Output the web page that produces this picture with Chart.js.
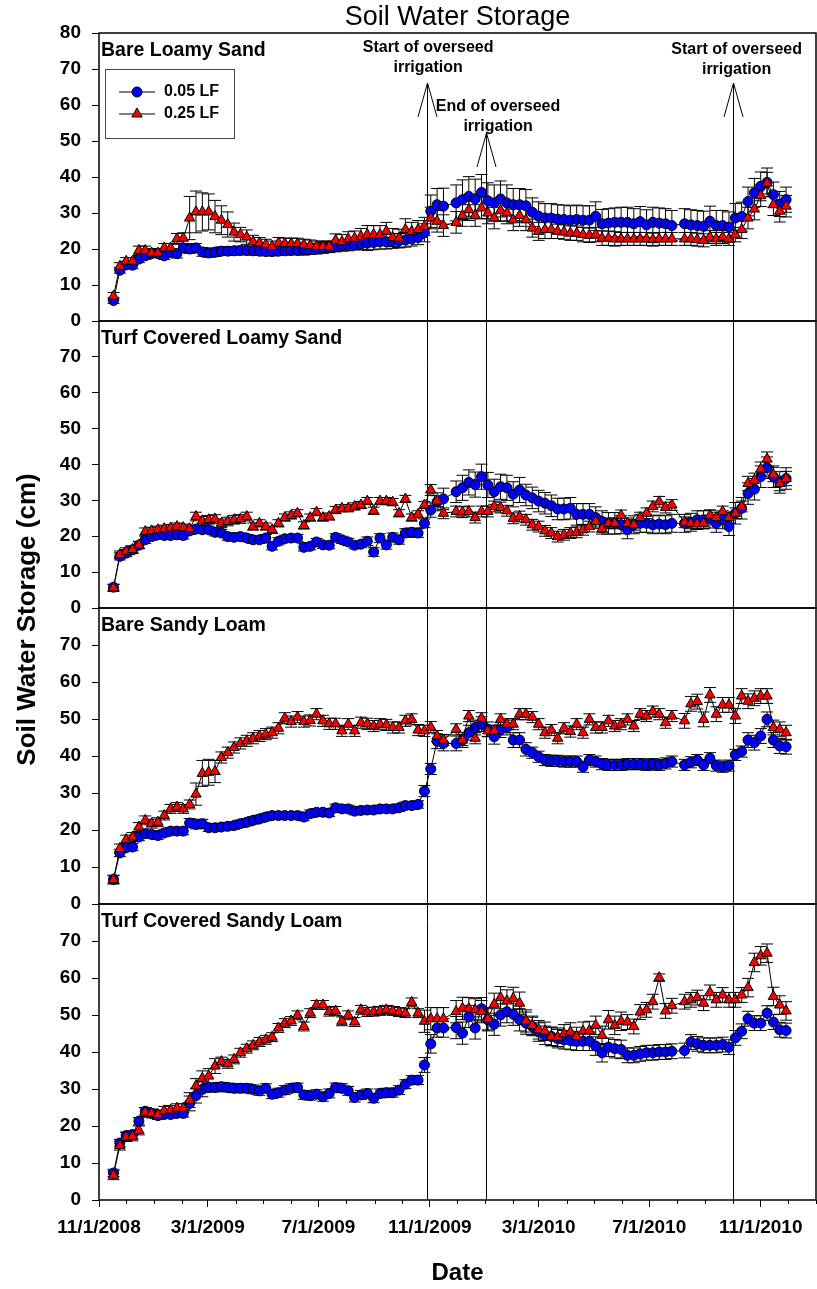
<!DOCTYPE html>
<html>
<head>
<meta charset="utf-8">
<title>Soil Water Storage</title>
<script src="https://cdn.jsdelivr.net/npm/chart.js@4.4.1/dist/chart.umd.min.js"></script>
<style>
  html, body { margin: 0; padding: 0; background: #fff; }
  #wrap { width: 817px; height: 1289px; }
</style>
</head>
<body>
<div id="wrap"><canvas id="soilChart" width="817" height="1289"></canvas></div>
<script>
const FONT = 'Arial, "Liberation Sans", Helvetica, sans-serif';

// weekly sampling dates
const dates = [
  '2008-11-17','2008-11-24','2008-12-01','2008-12-08','2008-12-15','2008-12-22','2008-12-29','2009-01-05','2009-01-12','2009-01-19',
  '2009-01-26','2009-02-02','2009-02-09','2009-02-16','2009-02-23','2009-03-02','2009-03-09','2009-03-16','2009-03-23','2009-03-30',
  '2009-04-06','2009-04-13','2009-04-20','2009-04-27','2009-05-04','2009-05-11','2009-05-18','2009-05-25','2009-06-01','2009-06-08',
  '2009-06-15','2009-06-22','2009-06-29','2009-07-06','2009-07-13','2009-07-20','2009-07-27','2009-08-03','2009-08-10','2009-08-17',
  '2009-08-24','2009-08-31','2009-09-07','2009-09-14','2009-09-21','2009-09-28','2009-10-05','2009-10-12','2009-10-19','2009-10-26',
  '2009-11-02','2009-11-09','2009-11-16','2009-11-30','2009-12-07','2009-12-14','2009-12-21','2009-12-28','2010-01-04',
  '2010-01-11','2010-01-18','2010-01-25','2010-02-01','2010-02-08','2010-02-15','2010-02-22','2010-03-01','2010-03-08','2010-03-15',
  '2010-03-22','2010-03-29','2010-04-05','2010-04-12','2010-04-19','2010-04-26','2010-05-03','2010-05-10','2010-05-17','2010-05-24',
  '2010-05-31','2010-06-07','2010-06-14','2010-06-21','2010-06-28','2010-07-05','2010-07-12','2010-07-19','2010-07-26',
  '2010-08-09','2010-08-16','2010-08-23','2010-08-30','2010-09-06','2010-09-13','2010-09-20','2010-09-27','2010-10-04','2010-10-11',
  '2010-10-18','2010-10-25','2010-11-01','2010-11-08','2010-11-15','2010-11-22','2010-11-29'
];

const xTickDates = [
  '2008-11-01','2008-12-01','2009-01-01','2009-02-01','2009-03-01','2009-04-01','2009-05-01','2009-06-01','2009-07-01',
  '2009-08-01','2009-09-01','2009-10-01','2009-11-01','2009-12-01','2010-01-01','2010-02-01','2010-03-01','2010-04-01',
  '2010-05-01','2010-06-01','2010-07-01','2010-08-01','2010-09-01','2010-10-01','2010-11-01','2010-12-01','2011-01-01'
];
const xTickLabels = [
  '11/1/2008','','','','3/1/2009','','','','7/1/2009',
  '','','','11/1/2009','','','','3/1/2010','',
  '','','7/1/2010','','','','11/1/2010','',''
];
const yTicks = [0, 10, 20, 30, 40, 50, 60, 70, 80];

const panelTitles = ['Bare Loamy Sand', 'Turf Covered Loamy Sand', 'Bare Sandy Loam', 'Turf Covered Sandy Loam'];
const seriesLabels = ['0.05 LF', '0.25 LF'];

// Bare Loamy Sand
const bareLoamySand05 = [
  5.7,14.1,15.6,15.5,17.2,18.1,18.7,18.7,18.1,19,
  18.7,20.3,20,20.3,19.2,18.9,19.1,19.4,19.4,19.5,
  19.6,19.6,19.5,19.4,19.3,19.3,19.4,19.5,19.6,19.6,
  19.8,20,20.1,20.3,20.5,20.7,20.9,21,21.2,21.4,
  21.6,21.8,22,22,22.2,22.3,22.5,22.8,23.2,24.5,
  30.5,32.3,31.9,32.8,33.7,34.6,33.9,35.7,33.4,
  32.8,33.9,32.8,32.3,32.3,32,30.2,29.1,28.6,28.6,
  28.3,28.2,28,28.2,28,28,29.1,27,27.2,27.4,
  27.4,27.4,27,27.6,26.7,27.4,27.2,27,26.5,
  27,26.7,26.5,26.3,27.7,26.5,26.5,26.1,28.6,29,
  33.2,35.6,37.4,38.5,35.1,32.5,33.7
];
const bareLoamySand05Err = [
  0.8,0.8,1,1,1,1,1,1,1,1,
  1.2,1.2,1.2,1.2,1.2,1.2,1.2,1.2,1.2,1.2,
  1.2,1.2,1.2,1.2,1.2,1.2,1.2,1.2,1.2,1.2,
  1.5,1.5,1.5,1.5,1.5,1.5,1.5,1.5,1.5,1.5,
  2,2,2,2,2,2,2,2,2,2.5,
  4.5,4.5,5,5,5.5,5.5,5.5,5,5,
  5,5,5,4.5,4.5,4.5,4,4,4,4,
  4,4,4,4,4,4,4,4,4,4,
  4.2,4.2,4.2,4.2,4.2,4.2,4.2,4.2,4.2,
  4.2,4.2,4.2,4.2,4.2,4.2,4.2,4.2,4,4,
  4,4,4,4,3.5,3.5,3.5
];
const bareLoamySand25 = [
  6.9,15.2,16.6,16.6,19.6,19.6,18.9,18.9,20.3,20.3,
  22.8,23,28.6,30.3,30.3,30.3,29,28,26.8,24.7,
  24,23.3,22,21.7,21.2,20.7,21.7,21.5,21.5,21.5,
  21.2,21,20.7,20.7,20.7,22.4,22,22.8,23,23.5,
  24,24,24,24.9,23.2,23,25.4,24.9,25.4,26.3,
  28.6,27.7,26.5,27.4,29.3,30.9,29.3,31.4,30,
  28.6,30.7,30,28.1,29.3,28.1,25.8,24.9,25.4,25.4,
  24.9,24.7,24.4,24.4,24,23.8,24,23,23,22.8,
  22.8,22.8,22.8,22.8,22.8,22.6,22.8,22.8,22.8,
  22.8,22.8,22.6,22.4,23.3,22.8,23.3,22.8,24,25.4,
  28.6,31.1,34.8,38.3,32.3,30.5,31.9
];
const bareLoamySand25Err = [
  1,1,1,1,1.2,1.2,1.2,1.2,1.2,1.2,
  1.5,1.5,6,5.8,5.3,5,4.5,4,3.5,2.5,
  2,2,1.8,1.5,1.5,1.5,1.5,1.5,1.5,1.5,
  1.5,1.5,1.5,1.5,1.5,1.8,2,2,2,2.2,
  2.5,2.5,2.5,2.5,2.5,2.5,3,2.5,2.5,2.5,
  3,3,3,3,3,3,3,3,3,
  3,3,3,3,3,3,2.5,2.5,2.5,2.5,
  2,2,2,2,2,2,2,2,2,2,
  1.8,1.8,1.8,1.8,1.8,1.8,1.8,1.8,1.8,
  1.8,1.8,1.8,1.8,1.8,1.8,1.8,1.8,2,2.5,
  3,3,3,3,3,3,3
];

// Turf Covered Loamy Sand
const turfLoamySand05 = [
  5.8,14.4,15.3,16.2,17.5,19,19.9,20.4,20.2,20.2,
  20.4,20.2,21.5,22,21.8,21.8,21.1,20.9,19.9,19.7,
  19.9,19.5,19,19,19.5,17.2,18.6,19.3,19.5,19.5,
  16.9,17.2,18.4,17.6,17.5,19.7,19,18.4,17.5,17.8,
  18.6,15.6,19.5,17.6,19.7,19,20.9,21.1,20.9,23.6,
  27.3,29.6,30.4,32.4,33.5,35,34.4,36.6,34.3,
  32.4,33.8,33.5,31.7,32.9,31.5,30.7,29.8,29.2,28.5,
  27.6,27.6,27.8,26.1,26.1,26.1,25.2,24.1,23.6,23.6,
  23.2,21.8,23.2,23.6,23.6,23.2,23.4,23.2,23.6,
  23.6,23.9,24.6,24.6,24.8,23.6,24.6,22.7,26.4,27.8,
  31.9,33.1,36.6,39.1,36.6,35,36.1
];
const turfLoamySand05Err = [
  0.8,1,1,1,1,1,1,1,1,1,
  1,1,1,1,1,1,1,1,1,1,
  1,1,1,1,1,1,1,1,1,1,
  1,1,1,1,1,1,1,1,1,1,
  1.2,1.2,1.2,1.2,1.2,1.2,1.2,1.2,1.2,1.2,
  2,2.5,3,3,3.5,3.5,3.5,3.5,3.5,
  3.5,3.5,3.5,3.5,3.5,3,3,3,3,3,
  3,3,3,3,3,3,3,3,3,3,
  2.5,2.5,2.5,2.5,2.5,2.5,2.5,2.5,2.5,
  2.5,2.5,2.5,2.5,2.5,2.5,2.5,2.5,3,3,
  3,3,3,3,3,3,3
];
const turfLoamySand25 = [
  5.6,14.9,15.8,16.3,17.6,21.3,21.5,21.8,22.1,22.3,
  22.7,22.4,22.1,25.5,24.3,24.6,24.8,23.6,24.1,24.6,
  24.8,25.5,22.7,23.6,22.7,21.8,23.6,25.2,25.8,26.4,
  23,25.2,26.7,25.2,25.5,27.3,27.8,27.8,28.3,28.7,
  29.8,27.1,29.8,29.8,29.5,26.4,30.4,25.2,26.1,28.7,
  32.9,29.8,26.4,26.9,26.7,26.9,25.2,26.9,26.9,
  28.3,28,27.1,25,25.5,24.6,23.2,22.7,21.5,20.9,
  19.9,20.4,20.9,21.1,21.8,22.7,24.1,22.1,23.6,23.6,
  25.8,23.6,23.2,25.2,26.4,28.3,29.6,28,28.7,
  23.9,23.6,23.4,23.6,25.8,25.2,26.9,25.2,26.4,28.3,
  34.7,35.6,38.7,41.5,37.2,34.7,36.1
];
const turfLoamySand25Err = [
  1,1,1,1,1,1,1,1,1,1,
  1,1,1,1.2,1.2,1.2,1.2,1.2,1.2,1.2,
  1.2,1.2,1,1,1,1,1,1,1,1,
  1,1,1,1,1,1,1,1,1,1,
  1,1,1,1,1,1,1,1,1,1,
  1.5,1.5,1.5,1.5,1.5,1.5,1.5,1.5,1.5,
  1.5,1.5,1.5,1.5,1.5,1.5,1.5,1.5,1.5,1.5,
  1.5,1.5,1.5,1.5,1.5,1.5,1.5,1.5,1.5,1.5,
  1.5,1.5,1.5,1.5,1.5,1.5,1.5,1.5,1.5,
  1.5,1.5,1.5,1.5,1.5,1.5,1.5,1.5,1.5,1.5,
  2,2,2,2,2,2,2
];

// Bare Sandy Loam
const bareSandyLoam05 = [
  6.6,13.8,15.2,15.4,18.1,19,18.8,18.5,19.2,19.7,
  19.7,19.7,21.9,21.5,21.7,20.6,20.6,20.8,21,21.2,
  21.7,22.1,22.6,23,23.5,23.9,23.9,23.9,23.9,23.9,
  23.5,24.4,24.8,24.8,24.6,26,25.7,25.7,25.1,25.3,
  25.4,25.4,25.7,25.7,25.7,26,26.6,26.6,26.9,30.5,
  36.5,44,43.4,43.4,44.3,46.3,47.7,48.6,47.2,
  45.2,47,47.7,44.3,44.3,41.8,40.9,39.8,38.9,38.7,
  38.7,38.5,38.5,38.5,37.1,38.9,38.5,37.8,37.6,37.6,
  37.6,37.8,37.8,37.8,37.6,37.8,37.6,38,38.5,
  37.6,38.3,38.9,37.6,39.4,37.4,37.1,37.4,40.3,41.2,
  44.3,43.6,45.4,49.9,44.3,42.7,42.5
];
const bareSandyLoam05Err = [
  1,1,1,1,1,1,1,1,1,1,
  1,1,1.2,1.2,1.2,1,1,1,1,1,
  1,1,1,1,1,1,1,1,1,1,
  1,1,1,1,1,1,1,1,1,1,
  1,1,1,1,1,1,1,1,1,1.5,
  1.5,2,2,2,2,2,2,2,2,
  2,2,2,2,2,1.8,1.5,1.5,1.5,1.5,
  1.5,1.5,1.5,1.5,1.5,1.5,1.5,1.5,1.5,1.5,
  1.5,1.5,1.5,1.5,1.5,1.5,1.5,1.5,1.5,
  1.5,1.5,1.5,1.5,1.5,1.5,1.5,1.5,1.5,1.5,
  2,2,2,2,2,2,2
];
const bareSandyLoam25 = [
  6.6,15,17.4,18.1,20.8,22.6,21.7,22.1,23.9,25.7,
  26.2,25.7,26.9,29.7,35.3,35.6,35.8,39.6,40.9,42.3,
  43.4,44.1,44.8,45.4,45.9,46.3,47.5,50.2,49.3,50.5,
  49.3,49.6,51.3,49.5,48.7,48.7,46.8,48.6,46.8,49,
  48.7,48.1,48.6,48.4,47.7,47.7,49.5,49.9,47,46.8,
  47.8,45.4,44.3,47.2,44.3,50.8,44.8,50.2,46.8,
  46.8,49.9,48.6,48.6,51.3,51.3,50.5,48.6,46.3,47,
  44.8,47.5,46.6,48.6,46.3,49.9,47.7,47.7,49.5,48.1,
  48.6,49.9,48.1,51.3,50.8,52,51.3,49,50.8,
  49.5,54.1,54.7,49.9,56.5,51.3,53.8,53.8,50.8,56.2,
  54.8,55.6,56.2,56.2,47.7,47.2,46.3
];
const bareSandyLoam25Err = [
  1.2,1.2,1.2,1.2,1.2,1.2,1.2,1.2,1.2,1.2,
  1.2,1.2,1.2,3,3.5,3.5,3,1.5,1.5,1.5,
  1.5,1.5,1.5,1.5,1.5,1.5,1.5,1.5,1.5,1.5,
  1.5,1.5,1.5,1.5,1.5,1.5,1.5,1.5,1.5,1.5,
  1.5,1.5,1.5,1.5,1.5,1.5,1.5,1.5,1.5,1.5,
  1.5,1.5,1.5,1.5,1.5,1.5,1.5,1.5,1.5,
  1.5,1.5,1.5,1.5,1.5,1.5,1.5,1.5,1.5,1.5,
  1.5,1.5,1.5,1.5,1.5,1.5,1.5,1.5,1.5,1.5,
  1.5,1.5,1.5,1.5,1.5,1.5,1.5,1.5,1.5,
  2,2,2,2,2,2,2,2,2,2,
  2,2,2,2,2,2,2
];

// Turf Covered Sandy Loam
const turfSandyLoam05 = [
  7.3,15.4,17.4,17.7,21.3,24,23.4,22.8,23.1,23.1,
  23.4,23.4,26.1,28.2,29.9,30.4,30.4,30.6,30.4,30.2,
  30.2,30.2,29.9,29.5,30.2,28.6,29,29.7,30.2,30.4,
  28.4,28.2,28.6,27.9,28.8,30.4,30.2,29.5,27.7,28.4,
  28.8,27.5,28.8,29,29,29.7,31.3,32.4,32.4,36.5,
  42.2,46.5,46.5,46.6,45.1,49.6,46.5,51.7,48.7,
  47.5,50,50.9,50.2,48.7,47.8,46.9,45.4,44.5,44.2,
  43.6,43.3,43.1,42.9,42.9,42.9,41.6,39.8,41.3,40.9,
  40.7,39.1,39.1,39.5,39.8,39.8,40,40,40.2,
  40.4,42.7,42.2,41.8,41.8,41.8,42,41.3,43.8,45.6,
  49,47.8,47.8,50.5,48.1,46,45.8
];
const turfSandyLoam05Err = [
  1,1,1,1,1,1,1,1,1,1,
  1,1,2,2,2,1.2,1.2,1.2,1.2,1.2,
  1.2,1.2,1.2,1.2,1.2,1.2,1.2,1.2,1.2,1.2,
  1.2,1.2,1.2,1.2,1.2,1.2,1.2,1.2,1.2,1.2,
  1.2,1.2,1.2,1.2,1.2,1.2,1.2,1.2,1.2,2,
  2.5,2.5,2.5,3,3,3,3,3,3,
  3,3,3,3,3,3,2.5,2.5,2.5,2.5,
  2.5,2.5,2.5,2.5,2.5,2.5,2.5,2.5,2.5,2.5,
  2.5,2,2,2,2,2,2,2,2,
  2,2,2,2,2,2,2,2,2,2,
  2,2,2,2,2,2,2
];
const turfSandyLoam25 = [
  6.7,14.7,17,17.2,18.8,23.7,23.4,23.1,24.1,24.3,
  24.8,24.8,27,30.8,32.9,33.5,36.2,37.4,36.8,38,
  39.8,40.9,41.8,42.7,43.3,44,46.5,47.8,48.4,49.9,
  46.9,50.5,52.7,52.7,50.9,51.1,48.3,49.9,48.1,51.4,
  50.8,50.9,51.1,51.4,51.1,50.8,50.5,53.4,50.5,48.3,
  49,49,49,50.9,51.8,51.7,51.4,50.9,49,
  52.9,54.7,53.8,54.5,53.2,48.4,47.2,46,45.6,44.2,
  44,44.9,45.4,44.2,45.6,45.8,47.2,44.5,48.7,47.2,
  48.3,48.1,46.9,50.8,51.4,53.6,60.1,51.1,52.5,
  53.6,54.1,54.7,53.2,56.1,54.1,55.4,54.1,54.1,55.4,
  57.4,64.2,66,66.7,55,52.7,51.1
];
const turfSandyLoam25Err = [
  1.2,1.2,1.2,1.2,1.2,1.2,1.2,1.2,1.2,1.2,
  1.2,1.2,2,2,2,2,2,1.2,1.2,1.2,
  1.2,1.2,1.2,1.2,1.2,1.2,1.2,1.2,1.2,1.2,
  1.2,1.2,1.2,1.2,1.2,1.2,1.2,1.2,1.2,1.2,
  1.2,1.2,1.2,1.2,1.2,1.2,1.2,1.2,1.2,3,
  3,3,3,3,3,3,3,3,3,
  3,3,3,3,3,3,2.5,2.5,2.5,2.5,
  2.5,2.5,2.5,2.5,2.5,2.5,2.5,2.5,2.5,2.5,
  2.5,2,2,2,2,2,1,2,2,
  2,2,2,2,2,2,2,2,2,2,
  2.5,2.5,2.5,2.5,2.5,2.5,2.5
];

// overseed irrigation events
const eventDates = ['2009-10-29', '2010-01-02', '2010-10-01'];
const eventLabels = [
  ['Start of overseed', 'irrigation'],
  ['End of overseed', 'irrigation'],
  ['Start of overseed', 'irrigation']
];

const origin = Date.UTC(2008, 10, 1);
const toDay = (s) => {
  const [y, m, d] = s.split('-').map(Number);
  return (Date.UTC(y, m - 1, d) - origin) / 86400000;
};

const panels = [
  { low: bareLoamySand05, lowErr: bareLoamySand05Err, high: bareLoamySand25, highErr: bareLoamySand25Err },
  { low: turfLoamySand05, lowErr: turfLoamySand05Err, high: turfLoamySand25, highErr: turfLoamySand25Err },
  { low: bareSandyLoam05, lowErr: bareSandyLoam05Err, high: bareSandyLoam25, highErr: bareSandyLoam25Err },
  { low: turfSandyLoam05, lowErr: turfSandyLoam05Err, high: turfSandyLoam25, highErr: turfSandyLoam25Err }
];
const panelWeights = [288, 287, 296, 296];

const BLUE = '#0000ff';
const RED = '#ff0000';

const datasets = [];
const errorBars = [];
panels.forEach((p, i) => {
  const axis = 'y' + (i + 1);
  datasets.push({
    label: seriesLabels[1], yAxisID: axis, order: 1,
    data: dates.map((d, j) => ({ x: toDay(d), y: p.high[j] })),
    borderColor: '#000', borderWidth: 1, backgroundColor: RED,
    pointStyle: 'triangle', pointRadius: 6, pointBackgroundColor: RED,
    pointBorderColor: '#000', pointBorderWidth: 1
  });
  errorBars.push(p.highErr);
  datasets.push({
    label: seriesLabels[0], yAxisID: axis, order: 2,
    data: dates.map((d, j) => ({ x: toDay(d), y: p.low[j] })),
    borderColor: '#000', borderWidth: 1, backgroundColor: BLUE,
    pointStyle: 'circle', pointRadius: 5, pointBackgroundColor: BLUE,
    pointBorderColor: '#000', pointBorderWidth: 1
  });
  errorBars.push(p.lowErr);
});

const tickFont = { family: FONT, size: 19, weight: 'bold' };

const scales = {
  x: {
    type: 'linear',
    min: toDay(xTickDates[0]),
    max: toDay(xTickDates[xTickDates.length - 1]),
    afterBuildTicks: (axis) => { axis.ticks = xTickDates.map(d => ({ value: toDay(d) })); },
    afterFit: (axis) => {
      axis.height = 89;
      axis.paddingLeft = 0;
      axis.paddingRight = 0;
    },
    ticks: {
      autoSkip: false, maxRotation: 0, padding: 9, color: '#000', font: tickFont,
      callback: (v, i) => xTickLabels[i]
    },
    grid: {
      drawOnChartArea: false, tickLength: 7, color: '#000',
      tickColor: (c) => (xTickLabels[c.index] ? '#000' : 'rgba(0,0,0,0)')
    },
    border: { display: false },
    title: {
      display: true, text: 'Date', color: '#000',
      font: { family: FONT, size: 24, weight: 'bold' }, padding: { top: 0, bottom: 1 }
    }
  }
};
panels.forEach((p, i) => {
  scales['y' + (i + 1)] = {
    type: 'linear', position: 'left', stack: 'panels',
    stackWeight: panelWeights[i], weight: panels.length - i,
    min: yTicks[0], max: yTicks[yTicks.length - 1],
    afterBuildTicks: (axis) => { axis.ticks = yTicks.map(v => ({ value: v })); },
    afterFit: (axis) => { axis.width = 99; },
    ticks: {
      autoSkip: false, padding: 11, color: '#000', font: tickFont,
      callback: (v) => (i > 0 && v === yTicks[yTicks.length - 1] ? '' : v)
    },
    grid: { drawOnChartArea: false, tickLength: 7, color: '#000', tickColor: '#000' },
    border: { display: false }
  };
});

function drawMarker(ctx, style, x, y, r, fill) {
  ctx.beginPath();
  if (style === 'triangle') {
    ctx.moveTo(x, y - r);
    ctx.lineTo(x + r * 0.866, y + r / 2);
    ctx.lineTo(x - r * 0.866, y + r / 2);
    ctx.closePath();
  } else {
    ctx.arc(x, y, r, 0, Math.PI * 2);
  }
  ctx.fillStyle = fill;
  ctx.fill();
  ctx.strokeStyle = '#000';
  ctx.lineWidth = 1;
  ctx.stroke();
}

// arrow tip offset from top of plot, label offsets
const eventLayout = [
  { tip: 50, dx: 1, dy: -35 },
  { tip: 100, dx: 12, dy: -26.5 },
  { tip: 50, dx: 4, dy: -33 }
];

const overlay = {
  id: 'overlay',
  beforeDatasetsDraw(chart) {
    const { ctx, chartArea: a, scales: s } = chart;
    ctx.save();
    ctx.strokeStyle = '#000';
    ctx.lineWidth = 1;
    eventDates.forEach((d, i) => {
      const x = Math.round(s.x.getPixelForValue(toDay(d))) + 0.5;
      const tip = a.top + eventLayout[i].tip;
      ctx.beginPath();
      ctx.moveTo(x, tip);
      ctx.lineTo(x, a.bottom);
      ctx.moveTo(x - 9.5, tip + 34);
      ctx.lineTo(x, tip);
      ctx.lineTo(x + 9.5, tip + 34);
      ctx.stroke();
    });

    // error bars
    chart.data.datasets.forEach((ds, di) => {
      const meta = chart.getDatasetMeta(di);
      const ys = s[ds.yAxisID];
      const err = errorBars[di];
      ctx.beginPath();
      meta.data.forEach((pt, j) => {
        const v = ds.data[j].y;
        const top = ys.getPixelForValue(v + err[j]);
        const bot = ys.getPixelForValue(v - err[j]);
        ctx.moveTo(pt.x, top); ctx.lineTo(pt.x, bot);
        ctx.moveTo(pt.x - 6, top); ctx.lineTo(pt.x + 6, top);
        ctx.moveTo(pt.x - 6, bot); ctx.lineTo(pt.x + 6, bot);
      });
      ctx.stroke();
    });
    ctx.restore();
  },
  afterDatasetsDraw(chart) {
    const { ctx, chartArea: a, scales: s } = chart;
    ctx.save();

    // panel frames and minor x ticks
    ctx.strokeStyle = '#000';
    ctx.lineWidth = 1.5;
    panels.forEach((p, i) => {
      const ys = s['y' + (i + 1)];
      ctx.strokeRect(a.left, ys.top, a.right - a.left, ys.bottom - ys.top);
    });
    ctx.lineWidth = 1;
    ctx.beginPath();
    xTickDates.forEach((d, i) => {
      if (xTickLabels[i]) return;
      const x = Math.round(s.x.getPixelForValue(toDay(d))) + 0.5;
      ctx.moveTo(x, a.bottom);
      ctx.lineTo(x, a.bottom + 4);
    });
    ctx.stroke();

    // panel names
    ctx.fillStyle = '#000';
    ctx.textAlign = 'left';
    ctx.textBaseline = 'alphabetic';
    ctx.font = `bold 19.5px ${FONT}`;
    panelTitles.forEach((t, i) => {
      ctx.fillText(t, a.left + 2, s['y' + (i + 1)].top + 23);
    });

    // legend
    const lx = a.left + 6, ly = a.top + 36;
    ctx.strokeStyle = '#444';
    ctx.lineWidth = 1;
    ctx.strokeRect(lx + 0.5, ly + 0.5, 129, 69);
    ctx.font = `bold 16px ${FONT}`;
    ctx.textBaseline = 'middle';
    [[BLUE, 'circle', 5], [RED, 'triangle', 6]].forEach(([c, style, r], i) => {
      const y = ly + 23 + i * 22;
      ctx.beginPath();
      ctx.strokeStyle = '#000';
      ctx.moveTo(lx + 14, y); ctx.lineTo(lx + 50, y);
      ctx.stroke();
      drawMarker(ctx, style, lx + 32, y, r, c);
      ctx.fillStyle = '#000';
      ctx.fillText(seriesLabels[i], lx + 59, y);
    });

    // event labels
    ctx.font = `bold 16px ${FONT}`;
    ctx.textAlign = 'center';
    eventDates.forEach((d, i) => {
      const x = s.x.getPixelForValue(toDay(d)) + eventLayout[i].dx;
      const y = a.top + eventLayout[i].tip + eventLayout[i].dy;
      ctx.fillText(eventLabels[i][0], x, y);
      ctx.fillText(eventLabels[i][1], x, y + 20);
    });

    // titles
    ctx.font = `27px ${FONT}`;
    ctx.fillText('Soil Water Storage', (a.left + a.right) / 2, 18);
    ctx.translate(28, (a.top + a.bottom) / 2 + 3);
    ctx.rotate(-Math.PI / 2);
    ctx.font = `bold 26px ${FONT}`;
    ctx.fillText('Soil Water Storage (cm)', 0, 0);
    ctx.restore();
  }
};

new Chart(document.getElementById('soilChart'), {
  type: 'line',
  data: { datasets },
  options: {
    responsive: false,
    animation: false,
    devicePixelRatio: 1,
    layout: { autoPadding: false, padding: { top: 33, right: 1, bottom: 0, left: 0 } },
    plugins: { legend: { display: false }, tooltip: { enabled: false }, title: { display: false } },
    scales
  },
  plugins: [overlay]
});
</script>
</body>
</html>
